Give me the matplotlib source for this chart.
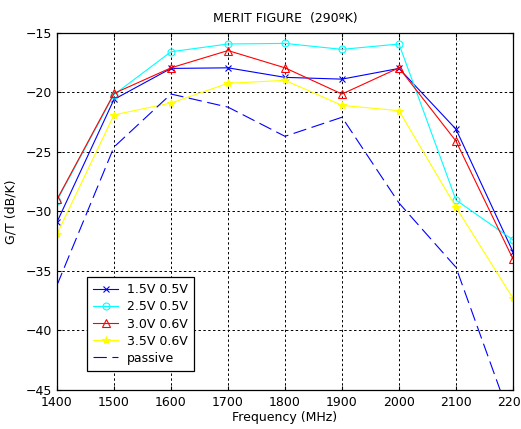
import matplotlib.pyplot as plt

plt.rcParams['font.family'] = ['DejaVu Sans']

# Frequency points (MHz) and G/T values (dB/K) for each bias setting
freq = [1400, 1500, 1600, 1700, 1800, 1900, 2000, 2100, 2200]
gt_15_05 = [-30.9, -20.6, -18.0, -17.95, -18.75, -18.9, -18.0, -23.1, -33.4]
gt_25_05 = [-29.1, -20.2, -16.6, -15.95, -15.9, -16.4, -15.95, -29.05, -32.4]
gt_30_06 = [-29.0, -20.1, -17.95, -16.5, -17.95, -20.15, -17.95, -24.1, -34.0]
gt_35_06 = [-31.9, -21.9, -20.9, -19.25, -19.0, -21.1, -21.55, -29.65, -37.3]
gt_passive = [-36.2, -24.6, -20.15, -21.25, -23.7, -22.1, -29.3, -34.7, -48.0]

fig = plt.figure(figsize=(5.21, 4.29), dpi=100)
ax = fig.add_axes([0.1094, 0.0909, 0.8752, 0.8329])

ax.plot(freq, gt_15_05, color='#0000ff', marker='x', ms=4, mew=0.8, lw=0.8, label='1.5V 0.5V')
ax.plot(freq, gt_25_05, color='#00ffff', marker='o', ms=5, mfc='none', mew=0.8, lw=0.8, label='2.5V 0.5V')
ax.plot(freq, gt_30_06, color='#ff0000', marker='^', ms=6, mfc='none', mew=0.8, lw=0.8, label='3.0V 0.6V')
ax.plot(freq, gt_35_06, color='#ffff00', marker='*', ms=6, mew=0.8, lw=0.8, label='3.5V 0.6V')
ax.plot(freq, gt_passive, color='#0000ff', ls=(0, (12, 5)), lw=0.8, label='passive')

ax.set_xlim(1400, 2200)
ax.set_ylim(-45, -15)
ax.set_xticks(freq)
ax.set_yticks([-45, -40, -35, -30, -25, -20, -15])
ax.grid(True, color='black', ls=(0, (2.5, 2.5)), lw=0.7)
ax.tick_params(direction='in', length=3, labelsize=9, colors='black', top=True, right=True)
ax.tick_params(axis='x', pad=4)
for sp in ax.spines.values():
    sp.set_linewidth(0.9)

ax.set_title('MERIT FIGURE  (290ºK)', fontsize=9, pad=8)
ax.set_xlabel('Frequency (MHz)', fontsize=9, labelpad=2)
ax.set_ylabel('G/T (dB/K)', fontsize=9, labelpad=6)

leg = ax.legend(loc='lower left', bbox_to_anchor=(0.066, 0.053), borderaxespad=0,
                fontsize=9, frameon=True, fancybox=False, edgecolor='black', framealpha=1,
                handlelength=2.0, borderpad=0.5, labelspacing=0.33, handletextpad=0.7)
leg.get_frame().set_linewidth(0.9)

fig.savefig('out.png', dpi=100)
